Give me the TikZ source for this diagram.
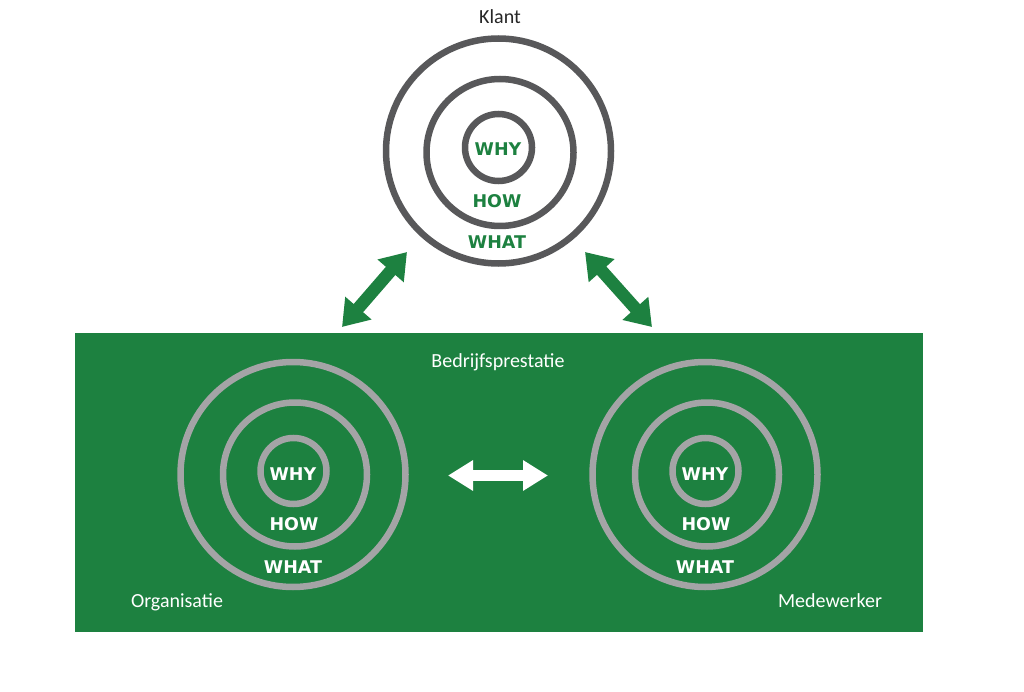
\documentclass[tikz,border=0pt]{standalone}
\usepackage{fontspec}
\setmainfont{Carlito}
\newfontfamily\ringfont{DejaVu Sans}
\usetikzlibrary{arrows.meta}
\definecolor{brandgreen}{RGB}{29,129,64}
\definecolor{darkring}{RGB}{88,88,90}
\definecolor{lightring}{RGB}{164,164,166}
\tikzset{
  ring/.style={circle, draw, inner sep=0pt, minimum size=#1},
  topring/.style={ring=#1, draw=darkring, line width=6.5pt},
  botring/.style={ring=#1, draw=lightring, line width=6.5pt},
  ringlabel/.style={font=\ringfont\bfseries\fontsize{17.5}{19}\selectfont, inner sep=0pt},
  caption/.style={font=\fontsize{20}{22}\selectfont, inner sep=0pt},
  dblarrow/.style={line width=12.5pt, {Triangle[length=25pt,width=33pt]}-{Triangle[length=25pt,width=33pt]}},
  whitearrow/.style={line width=11pt, {Triangle[length=25pt,width=29pt]}-{Triangle[length=25pt,width=29pt]}},
}
\begin{document}
\begin{tikzpicture}[x=1pt,y=-1pt]
\useasboundingbox (0,0) rectangle (1024,692);
\fill[white] (0,0) rectangle (1024,692);
% green panel
\node[fill=brandgreen, inner sep=0pt, minimum width=848pt, minimum height=299pt, anchor=north west] (panel) at (75,333) {};
% top circles
\node[caption, text=black!85] (klant) at (500,17) {Klant};
\node[topring=225pt] (kout) at (498.5,151) {};
\node[topring=147pt] (kmid) at (500,152.5) {};
\node[topring=67pt] (kin) at (498.5,147.5) {};
\node[ringlabel, text=brandgreen] (kwhy) at (498,149) {WHY};
\node[ringlabel, text=brandgreen] (khow) at (497,201) {HOW};
\node[ringlabel, text=brandgreen] (kwhat) at (497,242) {WHAT};
% panel label
\node[caption, text=white] (bedr) at (498,362) {Bedrijfsprestatie};
% left circles
\node[botring=225pt] (oout) at (293,474.5) {};
\node[botring=144pt] (omid) at (295,474.5) {};
\node[botring=66pt] (oin) at (293.5,471) {};
\node[ringlabel, text=white] (owhy) at (293,474) {WHY};
\node[ringlabel, text=white] (ohow) at (294,524) {HOW};
\node[ringlabel, text=white] (owhat) at (293,567) {WHAT};
\node[caption, text=white] (org) at (177,602) {Organisatie};
% right circles
\node[botring=225pt] (mout) at (705,474.5) {};
\node[botring=144pt] (mmid) at (707,474.5) {};
\node[botring=66pt] (min) at (705.5,471) {};
\node[ringlabel, text=white] (mwhy) at (705,474) {WHY};
\node[ringlabel, text=white] (mhow) at (706,524) {HOW};
\node[ringlabel, text=white] (mwhat) at (705,567) {WHAT};
\node[caption, text=white] (med) at (830,601) {Medewerker};
% arrow end points
\coordinate (la1) at (342,327);
\coordinate (la2) at (407,252);
\coordinate (ra1) at (585,252);
\coordinate (ra2) at (652,327);
\coordinate (wa1) at (448,475.5);
\coordinate (wa2) at (548,475.5);
\draw[dblarrow, draw=brandgreen, fill=brandgreen] (la1) -- (la2);
\draw[dblarrow, draw=brandgreen, fill=brandgreen] (ra1) -- (ra2);
\draw[whitearrow, draw=white, fill=white] (wa1) -- (wa2);
\end{tikzpicture}
\end{document}
